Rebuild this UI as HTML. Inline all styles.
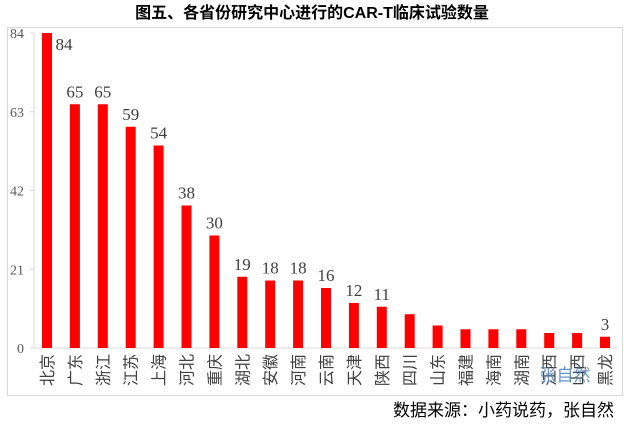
<!DOCTYPE html>
<html><head><meta charset="utf-8"><style>
body{margin:0;background:#fff;width:624px;height:424px;overflow:hidden;font-family:"Liberation Sans","Noto Sans CJK SC",sans-serif;}
</style></head><body>
<svg width="624" height="424">
<text x="312" y="18" text-anchor="middle" font-size="16" font-weight="bold" fill="#000" font-family="Liberation Sans,Noto Sans CJK SC,sans-serif">图五、各省份研究中心进行的CAR-T临床试验数量</text>
<rect x="7.5" y="27.5" width="615" height="368" fill="none" stroke="#d9d9d9"/>
<line x1="34" y1="33" x2="34" y2="348" stroke="#d9d9d9"/>
<line x1="34" y1="348" x2="618" y2="348" stroke="#d9d9d9"/>
<g id="g"></g>
<text x="565" y="381" text-anchor="middle" font-size="17" fill="#4f81bd" opacity="0.85" font-family="Noto Sans CJK SC,sans-serif">张自然</text>
<text x="614" y="416" text-anchor="end" font-size="17" fill="#000" font-family="Noto Sans CJK SC,sans-serif">数据来源：小药说药，张自然</text>
</svg>
<script>
const categories=["北京","广东","浙江","江苏","上海","河北","重庆","湖北","安徽","河南","云南","天津","陕西","四川","山东","福建","海南","湖南","江西","山西","黑龙"];
const values=[84,65,65,59,54,38,30,19,18,18,16,12,11,9,6,5,5,5,4,4,3];
const showLabel=[1,1,1,1,1,1,1,1,1,1,1,1,1,0,0,0,0,0,0,0,1];
const yTicks=[0,21,42,63,84];
const NS="http://www.w3.org/2000/svg";
const g=document.getElementById('g');
const y=v=>348-v*315/84;
const x=i=>47+i*27.9;
function mk(t,a){const e=document.createElementNS(NS,t);for(const k in a)e.setAttribute(k,a[k]);g.appendChild(e);return e;}
yTicks.forEach(v=>{
const l=mk('line',{x1:30,x2:34,y1:y(v),y2:y(v),stroke:'#d9d9d9'});


const t=mk('text',{x:24,y:y(v)+5,'text-anchor':'end','font-size':14,fill:'#595959','font-family':'Liberation Serif,serif'});
t.textContent=v;


});
categories.forEach((c,i)=>{
const b=mk('rect',{x:x(i)-5,y:y(values[i]),width:10,height:348-y(values[i]),fill:'#ff0000'});


if(showLabel[i]){
const t=mk('text',{x:x(i)+(i===0?17:0),y:(i===0?y(values[i])+17:y(values[i])-7),'text-anchor':'middle','font-size':17,fill:'#404040','font-family':'Liberation Serif,serif'});
t.textContent=values[i];


}
const tl=mk('text',{transform:`translate(${x(i)+6},354) rotate(-90)`,'text-anchor':'end','font-size':16,fill:'#404040','font-family':'Noto Sans CJK SC,sans-serif'});
tl.textContent=c;


});
</script>
</body></html>
